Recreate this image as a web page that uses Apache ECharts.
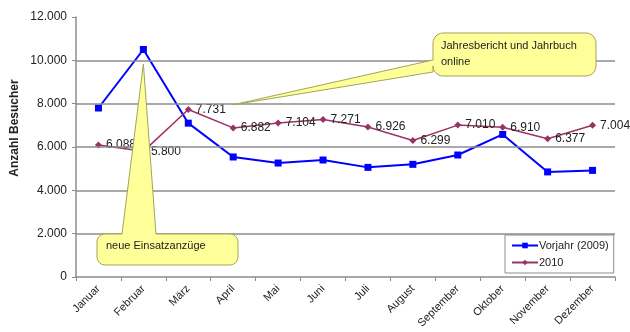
<!DOCTYPE html>
<html>
<head>
<meta charset="utf-8">
<script src="https://cdn.jsdelivr.net/npm/echarts@6/dist/echarts.min.js"></script>
<style>
  html, body { margin: 0; padding: 0; background: #fff; }
  #chart { width: 630px; height: 332px; }
</style>
</head>
<body>
<div id="chart"></div>
<script>
const months = ['Januar', 'Februar', 'März', 'April', 'Mai', 'Juni', 'Juli',
  'August', 'September', 'Oktober', 'November', 'Dezember'];
const visitors2009 = [7800, 10500, 7100, 5540, 5260, 5400, 5060, 5200, 5630, 6580, 4850, 4920];
const visitors2010 = [6088, 5800, 7731, 6882, 7104, 7271, 6926, 6299, 7010, 6910, 6377, 7004];
const gridValues = [2000, 4000, 6000, 8000, 10000];

const fmt = v => v.toLocaleString('de-DE');
const font = 'Liberation Sans, Arial, sans-serif';

const chart = echarts.init(document.getElementById('chart'));

chart.setOption({
  animation: false,
  textStyle: { fontFamily: font },
  grid: { left: 76, right: 15, top: 17, bottom: 55 },
  legend: {
    orient: 'vertical',
    left: 505,
    top: 235,
    width: 110,
    itemWidth: 26,
    itemHeight: 7,
    itemGap: 6,
    padding: [5, 5, 5, 6],
    borderColor: '#8c8c8c',
    borderWidth: 1,
    backgroundColor: '#fff',
    textStyle: { fontSize: 11, color: '#222', fontFamily: font, padding: [0, 0, 0, -4] },
    data: ['Vorjahr (2009)', '2010']
  },
  xAxis: {
    type: 'category',
    data: months,
    boundaryGap: true,
    axisLine: { lineStyle: { color: '#8c8c8c', width: 1.5 } },
    axisTick: { show: true, length: 4, lineStyle: { color: '#8c8c8c' } },
    axisLabel: { rotate: 45, fontSize: 11, color: '#222', margin: 10, fontFamily: font }
  },
  yAxis: {
    type: 'value',
    min: 0,
    max: 12000,
    interval: 2000,
    axisLine: { show: true, lineStyle: { color: '#8c8c8c', width: 1.5 } },
    axisTick: { show: true, length: 4, lineStyle: { color: '#8c8c8c' } },
    splitLine: { show: false },
    axisLabel: { formatter: v => fmt(v), fontSize: 12, color: '#222', margin: 9, fontFamily: font }
  },
  series: [
    {
      name: 'Vorjahr (2009)',
      type: 'line',
      data: visitors2009,
      symbol: 'rect',
      symbolSize: 7,
      color: '#0000ff',
      lineStyle: { width: 2, color: '#0000ff' },
      itemStyle: { color: '#0000ff' },
      z: 3,
      markLine: {
        silent: true,
        symbol: 'none',
        label: { show: false },
        lineStyle: { color: '#8c8c8c', width: 1.5, type: 'solid' },
        data: gridValues.map(v => ({ yAxis: v }))
      }
    },
    {
      name: '2010',
      type: 'line',
      data: visitors2010,
      symbol: 'diamond',
      symbolSize: 7,
      color: '#993366',
      lineStyle: { width: 1.5, color: '#993366' },
      itemStyle: { color: '#993366' },
      z: 4,
      label: {
        show: true,
        position: 'right',
        distance: 4,
        fontSize: 12,
        color: '#222',
        fontFamily: font,
        formatter: p => fmt(p.value)
      }
    }
  ]
});

// callouts (annotations) anchored to data positions
const tip1 = chart.convertToPixel({ seriesIndex: 0 }, [1, 9830]);
const tip2 = chart.convertToPixel({ seriesIndex: 0 }, [2.6, 7950]);

function arc(pts, cx, cy, r, a0, a1) {
  for (let i = 0; i <= 6; i++) {
    const a = a0 + (a1 - a0) * i / 6;
    pts.push([cx + r * Math.cos(a), cy + r * Math.sin(a)]);
  }
}

// rounded box with a pointer on the top edge or the left edge
function calloutPoints(x0, y0, x1, y1, r, side, a, b, tip) {
  const pts = [];
  const P = Math.PI;
  arc(pts, x0 + r, y0 + r, r, P, 1.5 * P);
  if (side === 'top') pts.push([a, y0], tip, [b, y0]);
  arc(pts, x1 - r, y0 + r, r, 1.5 * P, 2 * P);
  arc(pts, x1 - r, y1 - r, r, 0, 0.5 * P);
  arc(pts, x0 + r, y1 - r, r, 0.5 * P, P);
  if (side === 'left') pts.push([x0, b], tip, [x0, a]);
  return pts;
}

const calloutStyle = { fill: '#ffff99', stroke: '#a3a35a', lineWidth: 1 };

chart.setOption({
  graphic: [
    {
      type: 'polygon',
      z: 100,
      shape: { points: calloutPoints(97, 234, 238, 265, 8, 'top', 122, 156, tip1) },
      style: calloutStyle
    },
    {
      type: 'text',
      z: 101,
      left: 106,
      top: 240,
      style: { text: 'neue Einsatzanzüge', fontSize: 11, fill: '#222', fontFamily: font }
    },
    {
      type: 'polygon',
      z: 100,
      shape: { points: calloutPoints(433, 33, 596, 76, 10, 'left', 60, 72, tip2) },
      style: calloutStyle
    },
    {
      type: 'text',
      z: 101,
      left: 441,
      top: 38,
      style: { text: 'Jahresbericht und Jahrbuch\nonline', fontSize: 11, lineHeight: 16, fill: '#222', fontFamily: font }
    },
    {
      type: 'text',
      z: 101,
      x: 15,
      y: 128,
      rotation: Math.PI / 2,
      style: {
        text: 'Anzahl Besucher', fontSize: 12, fontWeight: 'bold', fill: '#222',
        fontFamily: font, align: 'center', verticalAlign: 'middle'
      }
    }
  ]
});
</script>
</body>
</html>
